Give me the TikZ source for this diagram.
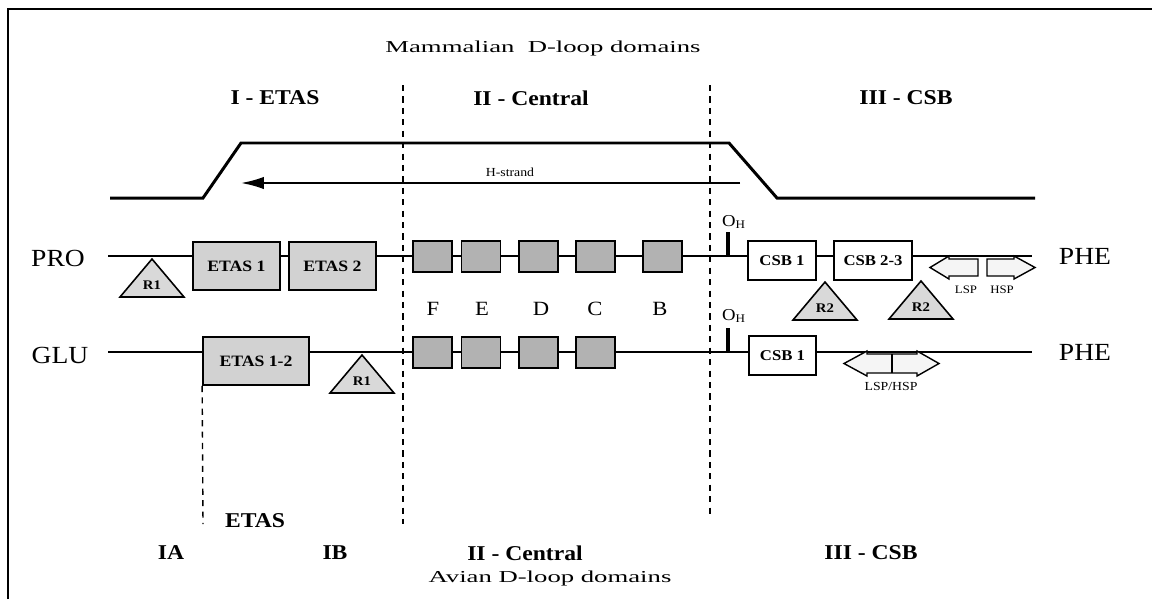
\documentclass[tikz,border=0pt]{standalone}
\usepackage{fontspec}
\setmainfont{Liberation Serif}[FakeStretch=1.12]
\newfontfamily\widefont{Liberation Serif}[FakeStretch=1.6]
\usetikzlibrary{arrows.meta}

\tikzset{
	strand/.style = {line width = 1.5pt},
	domline/.style = {line width = 0.8pt, dash pattern = on 3.5pt off 3pt},
	block/.style = {draw, line width = 1pt, inner sep = 0pt, font = \bfseries\fontsize{9}{10}\selectfont},
	etas/.style = {block, fill = gray!35, minimum height = 0.96cm},
	cent/.style = {block, fill = gray!60, minimum width = 0.78cm, minimum height = 0.62cm},
	csb/.style = {block, fill = white, minimum height = 0.78cm, font = \bfseries\fontsize{8.5}{10}\selectfont},
	tri/.style = {draw, fill = gray!30, line width = 0.9pt},
	trilab/.style = {inner sep = 0pt, font = \bfseries\fontsize{7.5}{8}\selectfont},
	prom/.style = {draw, fill = gray!8, line width = 0.8pt},
	title/.style = {font = \bfseries\fontsize{12}{14}\selectfont},
	trna/.style = {font = \fontsize{14}{16}\selectfont},
	small/.style = {font = \fontsize{6.5}{8}\selectfont},
	letter/.style = {font = \fontsize{11.5}{12}\selectfont}
}

% repeat triangle: name, apex x, apex y, label
\newcommand{\rtri}[4]{%
	\filldraw[tri] (#2,#3) -- ++(-32,38) -- ++(64,0) -- cycle;
	\node[trilab] (#1) at (#2,#3+26) {#4};
}

\begin{document}
\begin{tikzpicture}[x = 0.02cm, y = -0.02cm]
	\useasboundingbox (0,0) rectangle (1152,599);
	% frame
	\draw[line width = 1.6pt] (8,599) -- (8,9) -- (1152,9);

	% headings
	\node (mam) at (543,48) {\widefont\fontsize{9.5}{11}\selectfont Mammalian\ \ D-loop domains};
	\node[title] (dom1) at (275,98) {I - ETAS};
	\node[title] (dom2) at (531,98) {II - Central};
	\node[title] (dom3) at (906,98) {III - CSB};

	% domain borders
	\draw[domline] (403,85) -- (403,524);
	\draw[domline] (710,85) -- (710,514);

	% D-loop and H-strand
	\draw[strand, line width = 1.7pt] (110,198) -- (203,198) -- (241,143) -- (729,143) -- (777,198) -- (1035,198);
	\coordinate (hs-start) at (740,183);
	\coordinate (hs-end) at (241,183);
	\draw[line width = 1.1pt, -{Latex[length = 13pt, width = 7pt]}] (hs-start) -- (hs-end);
	\node[font = \fontsize{7}{8}\selectfont] (hstrand) at (510,172) {H-strand};

	% mammalian line
	\node[trna] (pro) at (58,258) {PRO};
	\node[trna] (phe1) at (1085,256) {PHE};
	\coordinate (pro-w) at (108,256);
	\coordinate (pro-e) at (1032,256);
	\draw[strand] (pro-w) -- (pro-e);
	\rtri{r1a}{152}{259}{R1}
	\node[etas, minimum width = 1.74cm] (etas1) at (236.5,266) {ETAS 1};
	\node[etas, minimum width = 1.74cm] (etas2) at (332.5,266) {ETAS 2};
	\node[cent] (f1) at (432.5,256.5) {};
	\node[cent] (e1) at (481,256.5) {};
	\node[cent] (d1) at (538.5,256.5) {};
	\node[cent] (c1) at (595.5,256.5) {};
	\node[cent] (b1) at (662.5,256.5) {};
	\coordinate (oh1-top) at (728,232);
	\coordinate (oh1-bot) at (728,256);
	\draw[line width = 2.5pt] (oh1-top) -- (oh1-bot);
	\node[font = \fontsize{9.5}{10}\selectfont] (oh1) at (734,222) {O\textsubscript{H}};
	\node[csb, minimum width = 1.36cm] (csb1a) at (782,260.5) {CSB 1};
	\node[csb, minimum width = 1.56cm] (csb23) at (873,260.5) {CSB 2-3};
	\rtri{r2a}{825}{282}{R2}
	\rtri{r2b}{921}{281}{R2}
	\filldraw[prom] (930,267.5) -- (949,256) -- (949,259) -- (978,259) -- (978,276) -- (949,276) -- (949,279) -- cycle;
	\filldraw[prom] (1035,267.5) -- (1014,256) -- (1014,259) -- (987,259) -- (987,276) -- (1014,276) -- (1014,279) -- cycle;
	\node[small] (lsp) at (966,290) {LSP};
	\node[small] (hsp) at (1002,290) {HSP};

	% conserved blocks
	\node[letter] (lf) at (433,309) {F};
	\node[letter] (le) at (482,309) {E};
	\node[letter] (ld) at (541,309) {D};
	\node[letter] (lc) at (595,309) {C};
	\node[letter] (lb) at (660,309) {B};

	% avian line
	\node[trna] (glu) at (60,355) {GLU};
	\node[trna] (phe2) at (1085,352) {PHE};
	\coordinate (glu-w) at (108,352);
	\coordinate (glu-e) at (1032,352);
	\draw[strand] (glu-w) -- (glu-e);
	\node[etas, minimum width = 2.12cm] (etas12) at (256,361) {ETAS 1-2};
	\draw[domline] (etas12.south west) -- (203,524);
	\rtri{r1b}{362}{355}{R1}
	\node[cent] (f2) at (432.5,352.5) {};
	\node[cent] (e2) at (481,352.5) {};
	\node[cent] (d2) at (538.5,352.5) {};
	\node[cent] (c2) at (595.5,352.5) {};
	\coordinate (oh2-top) at (728,328);
	\coordinate (oh2-bot) at (728,352);
	\draw[line width = 2.5pt] (oh2-top) -- (oh2-bot);
	\node[font = \fontsize{9.5}{10}\selectfont] (oh2) at (734,316) {O\textsubscript{H}};
	\node[csb, minimum width = 1.34cm] (csb1b) at (782.5,355.5) {CSB 1};
	\filldraw[prom] (844,363.5) -- (867,351) -- (867,354) -- (917,354) -- (917,351) -- (939,363.5) -- (917,376) -- (917,373) -- (867,373) -- (867,376) -- cycle;
	\draw[line width = 0.6pt] (892,354) -- (892,373);
	\node[small, font = \fontsize{7}{8}\selectfont] (lsphsp) at (891,386) {LSP/HSP};

	% avian domains
	\node[title] (etasb) at (255,521) {ETAS};
	\node[title] (ia) at (171,553) {IA};
	\node[title] (ib) at (335,553) {IB};
	\node[title] (dom2b) at (525,553) {II - Central};
	\node[title] (dom3b) at (871,553) {III - CSB};
	\node (avi) at (550,578) {\widefont\fontsize{9.5}{11}\selectfont Avian D-loop domains};
\end{tikzpicture}
\end{document}
